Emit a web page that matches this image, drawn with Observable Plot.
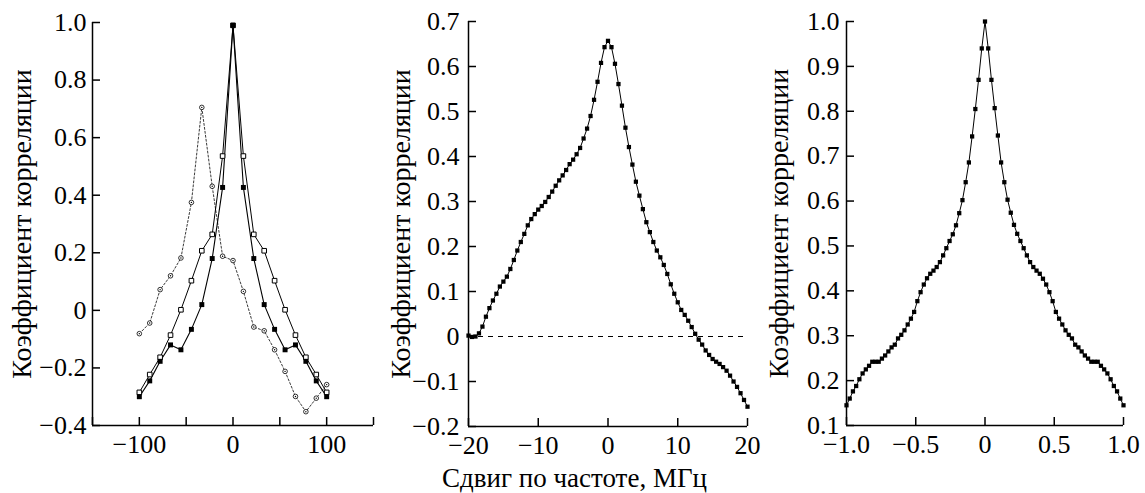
<!DOCTYPE html>
<html><head><meta charset="utf-8">
<script src="https://cdn.jsdelivr.net/npm/d3@7"></script>
<script src="https://cdn.jsdelivr.net/npm/@observablehq/plot@0.6"></script>
<style>
body{margin:0;background:#fff;}
#wrap{position:relative;width:1145px;height:493px;overflow:hidden;background:#fff;font-family:"Liberation Serif",serif;}
#wrap svg{position:absolute;top:0;background:transparent;}
#xlabel{position:absolute;left:2px;width:1145px;top:465px;text-align:center;font-size:27px;line-height:27px;color:#000;}
</style></head><body>
<div id="wrap"><div id="xlabel">Сдвиг по частоте, МГц</div></div>
<script>
// ---------- Panel 1 ----------
const p1X = [-100, -88.9, -77.8, -66.7, -55.6, -44.4, -33.3, -22.2, -11.1, 0, 11.1, 22.2, 33.3, 44.4, 55.6, 66.7, 77.8, 88.9, 100];
const p1Filled = [-0.30, -0.245, -0.177, -0.120, -0.137, -0.066, 0.02, 0.18, 0.427, 0.99, 0.427, 0.18, 0.02, -0.066, -0.137, -0.12, -0.177, -0.245, -0.30];
const p1Open = [-0.285, -0.223, -0.163, -0.086, 0.002, 0.103, 0.207, 0.264, 0.536, 0.99, 0.536, 0.264, 0.207, 0.103, 0.002, -0.086, -0.163, -0.223, -0.285];
const p1Circle = [-0.081, -0.044, 0.072, 0.120, 0.182, 0.375, 0.705, 0.431, 0.188, 0.173, 0.066, -0.058, -0.071, -0.137, -0.212, -0.299, -0.352, -0.305, -0.258];
const p1XTickMarks = [-150, -100, -50, 0, 50, 100, 150];
const p1XTicks = [-100, 0, 100];
const p1XLabels = ["−100", "0", "100"];
const p1YTicks = [-0.4, -0.2, 0, 0.2, 0.4, 0.6, 0.8, 1.0];
const p1YLabels = ["−0.4", "−0.2", "0", "0.2", "0.4", "0.6", "0.8", "1.0"];

// ---------- Panel 2 ----------
const p2X = d3.range(-40, 41).map(k => k / 2);
const p2Y = [0.002, -0.001, 0.000, 0.007, 0.022, 0.044, 0.063, 0.080, 0.095, 0.111, 0.122, 0.133, 0.150, 0.170, 0.191, 0.210, 0.228, 0.247, 0.261, 0.272, 0.282, 0.290, 0.299, 0.310, 0.322, 0.335, 0.347, 0.358, 0.370, 0.383, 0.393, 0.405, 0.419, 0.440, 0.462, 0.490, 0.526, 0.566, 0.608, 0.643, 0.657,
  0.643, 0.606, 0.561, 0.513, 0.464, 0.421, 0.382, 0.344, 0.313, 0.283, 0.254, 0.232, 0.210, 0.191, 0.176, 0.159, 0.139, 0.116, 0.095, 0.076, 0.059, 0.048, 0.035, 0.021, 0.006, -0.007, -0.018, -0.031, -0.041, -0.050, -0.056, -0.061, -0.068, -0.076, -0.087, -0.100, -0.112, -0.126, -0.141, -0.156];
const p2XTicks = [-20, -10, 0, 10, 20];
const p2XLabels = ["−20", "−10", "0", "10", "20"];
const p2YTicks = [-0.2, -0.1, 0, 0.1, 0.2, 0.3, 0.4, 0.5, 0.6, 0.7];
const p2YLabels = ["−0.2", "−0.1", "0", "0.1", "0.2", "0.3", "0.4", "0.5", "0.6", "0.7"];

// ---------- Panel 3 ----------
const p3X = d3.range(-43, 44).map(k => k / 43);
const p3Y = [0.145, 0.160, 0.176, 0.188, 0.203, 0.216, 0.225, 0.233, 0.242, 0.242, 0.242, 0.249, 0.256, 0.265, 0.274, 0.280, 0.294, 0.302, 0.312, 0.325, 0.338, 0.353, 0.377, 0.397, 0.414, 0.428, 0.438, 0.445, 0.453, 0.464, 0.479, 0.495, 0.511, 0.526, 0.546, 0.573, 0.602, 0.642, 0.686, 0.744, 0.805, 0.870, 0.940, 1.0,
  0.940, 0.870, 0.807, 0.746, 0.686, 0.642, 0.603, 0.574, 0.547, 0.527, 0.511, 0.495, 0.479, 0.464, 0.453, 0.445, 0.438, 0.427, 0.414, 0.397, 0.377, 0.353, 0.338, 0.325, 0.312, 0.302, 0.294, 0.280, 0.274, 0.265, 0.256, 0.249, 0.242, 0.242, 0.242, 0.233, 0.225, 0.216, 0.203, 0.188, 0.176, 0.160, 0.145];
const p3XTicks = [-1, -0.5, 0, 0.5, 1];
const p3XLabels = ["−1.0", "−0.5", "0", "0.5", "1.0"];
const p3YTicks = [0.1, 0.2, 0.3, 0.4, 0.5, 0.6, 0.7, 0.8, 0.9, 1.0];
const p3YLabels = ["0.1", "0.2", "0.3", "0.4", "0.5", "0.6", "0.7", "0.8", "0.9", "1.0"];

const yTitle = "Коэффициент корреляции";
const FONT = "Liberation Serif";

function panel(o) {
  const H = 493;
  const innerW = o.width - o.ml - o.mr;
  const innerH = H - o.mt - o.mb;
  const xmap = new Map(o.xTicks.map((v, i) => [v, o.xLabels[i]]));
  const ymap = new Map(o.yTicks.map((v, i) => [v, o.yLabels[i]]));
  const svg = Plot.plot({
    width: o.width, height: H,
    marginLeft: o.ml, marginRight: o.mr, marginTop: o.mt, marginBottom: o.mb,
    x: {domain: o.xDomain},
    y: {domain: o.yDomain},
    style: {fontSize: "26px", background: "transparent", overflow: "visible", fontFamily: FONT},
    marks: [
      ...o.marks,
      Plot.ruleX([o.xDomain[0]], {stroke: "#000", strokeWidth: 1.5}),
      Plot.ruleY([o.yDomain[0]], {stroke: "#000", strokeWidth: 1.5}),
      Plot.tickX(o.xTickMarks || o.xTicks, {x: d => d, insetTop: innerH - 8, stroke: "#000", strokeWidth: 1.5}),
      Plot.tickY(o.yTicks, {y: d => d, insetRight: innerW - 8, stroke: "#000", strokeWidth: 1.5}),
      Plot.axisX(o.xTicks, {tickSize: 0, tickPadding: 9, tickFormat: d => xmap.get(d), label: null, fill: "#000", fontSize: 26, fontFamily: FONT}),
      Plot.axisY(o.yTicks, {tickSize: 0, tickPadding: o.yPad, tickFormat: d => ymap.get(d), label: null, fill: "#000", fontSize: 26, fontFamily: FONT}),
      Plot.text([yTitle], {frameAnchor: "left", dx: o.titleDx, rotate: -90, fontSize: 28, fontFamily: FONT, textAnchor: "middle", lineAnchor: "middle", fill: "#000"})
    ]
  });
  svg.setAttribute("font-family", FONT);
  svg.style.left = o.left + "px";
  return svg;
}

const wrap = document.getElementById("wrap");

const d1f = p1X.map((x, i) => ({x, y: p1Filled[i]}));
const d1o = p1X.map((x, i) => ({x, y: p1Open[i]}));
const d1c = p1X.map((x, i) => ({x, y: p1Circle[i]}));

wrap.appendChild(panel({
  left: 0, width: 385, ml: 92, mr: 12, mt: 22, mb: 68,
  xDomain: [-150, 150], yDomain: [-0.4, 1.0],
  xTickMarks: p1XTickMarks, xTicks: p1XTicks, xLabels: p1XLabels,
  yTicks: p1YTicks, yLabels: p1YLabels, yPad: 6, titleDx: -70,
  marks: [
    Plot.line(d1c, {x: "x", y: "y", stroke: "#222", strokeWidth: 0.9, strokeDasharray: "2,2"}),
    Plot.line(d1o, {x: "x", y: "y", stroke: "#000", strokeWidth: 1}),
    Plot.line(d1f, {x: "x", y: "y", stroke: "#000", strokeWidth: 1.1}),
    Plot.dot(d1c, {x: "x", y: "y", r: 2.3, fill: "#fff", stroke: "#000", strokeWidth: 0.8}),
    Plot.dot(d1c, {x: "x", y: "y", r: 0.7, fill: "#000"}),
    Plot.dot(d1o, {x: "x", y: "y", symbol: "square", r: 2.6, fill: "#fff", stroke: "#000", strokeWidth: 1}),
    Plot.dot(d1f, {x: "x", y: "y", symbol: "square", r: 2.8, fill: "#000"})
  ]
}));

const d2 = p2X.map((x, i) => ({x, y: p2Y[i]}));
wrap.appendChild(panel({
  left: 380, width: 380, ml: 88, mr: 13, mt: 21, mb: 67,
  xDomain: [-20, 20], yDomain: [-0.2, 0.7],
  xTicks: p2XTicks, xLabels: p2XLabels,
  yTicks: p2YTicks, yLabels: p2YLabels, yPad: 9, titleDx: -67,
  marks: [
    Plot.ruleY([0], {x1: -20, x2: 20, stroke: "#000", strokeWidth: 1, strokeDasharray: "5,5"}),
    Plot.line(d2, {x: "x", y: "y", stroke: "#000", strokeWidth: 1}),
    Plot.dot(d2, {x: "x", y: "y", symbol: "square", r: 2.4, fill: "#000"})
  ]
}));

const d3data = p3X.map((x, i) => ({x, y: p3Y[i]}));
wrap.appendChild(panel({
  left: 760, width: 385, ml: 86, mr: 22, mt: 21, mb: 68,
  xDomain: [-1, 1], yDomain: [0.1, 1.0],
  xTicks: p3XTicks, xLabels: p3XLabels,
  yTicks: p3YTicks, yLabels: p3YLabels, yPad: 7, titleDx: -67,
  marks: [
    Plot.line(d3data, {x: "x", y: "y", stroke: "#000", strokeWidth: 1}),
    Plot.dot(d3data, {x: "x", y: "y", symbol: "square", r: 2.4, fill: "#000"})
  ]
}));
</script>
</body></html>
